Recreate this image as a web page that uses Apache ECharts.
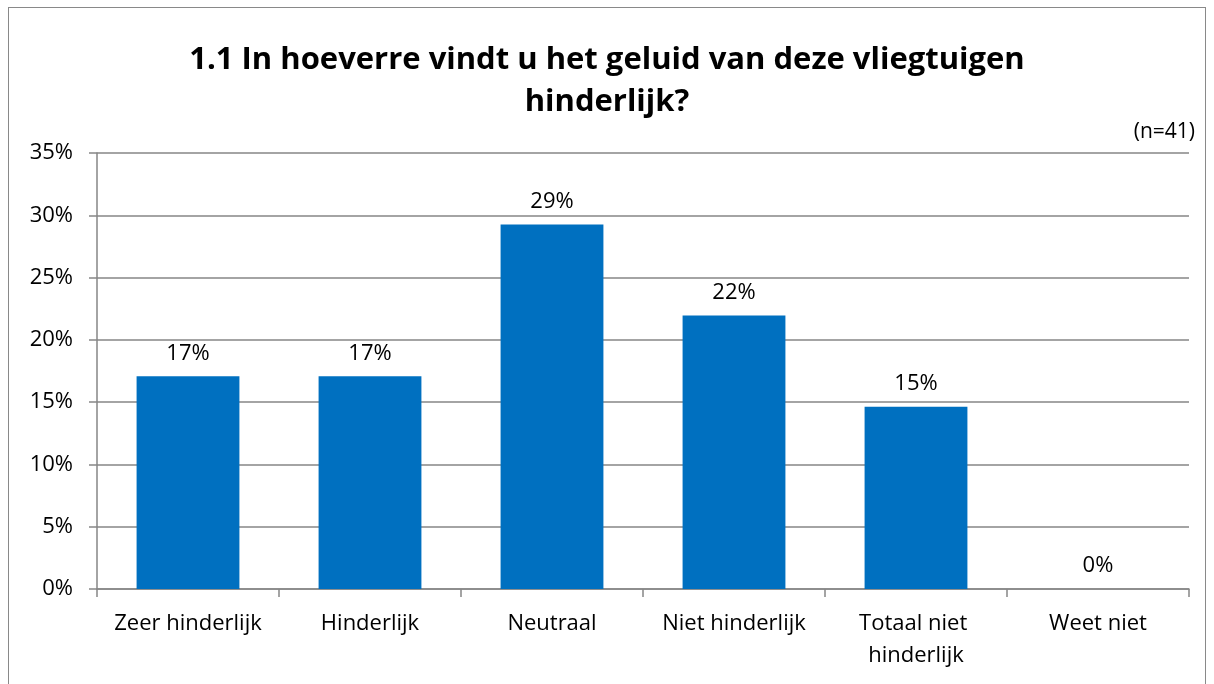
<!DOCTYPE html>
<html>
<head>
<meta charset="utf-8">
<script src="https://cdn.jsdelivr.net/npm/echarts@6/dist/echarts.min.js"></script>
<style>
  html, body { margin: 0; padding: 0; background: #fff; }
  #frame { position: absolute; left: 8px; top: 7px; width: 1198px; height: 690px; border: 1.5px solid #898989; box-sizing: border-box; }
  #chart { position: absolute; left: 0; top: 0; width: 1214px; height: 684px; }
</style>
</head>
<body>
<div id="frame"></div>
<div id="chart"></div>
<script>
const titleText = '1.1 In hoeverre vindt u het geluid van deze vliegtuigen\nhinderlijk?';
const noteText = '(n=41)';
const categories = ['Zeer hinderlijk', 'Hinderlijk', 'Neutraal', 'Niet hinderlijk', 'Totaal niet hinderlijk', 'Weet niet'];
const values = [17.07, 17.07, 29.27, 21.95, 14.63, 0];
const yTicks = [0, 5, 10, 15, 20, 25, 30, 35];

const FONT = '"Open Sans", Lato, sans-serif';
const chart = echarts.init(document.getElementById('chart'), null, { renderer: 'canvas' });
chart.setOption({
  backgroundColor: 'transparent',
  animation: false,
  title: [{
    text: titleText,
    left: 'center',
    top: 34,
    textStyle: { fontFamily: FONT, fontSize: 31, fontWeight: 'bold', color: '#000', lineHeight: 42 }
  }, {
    text: noteText,
    right: 14,
    top: 117,
    textStyle: { fontFamily: FONT, fontSize: 21, fontWeight: 'normal', color: '#000' }
  }],
  grid: { left: 97, right: 25, top: 153, bottom: 95, containLabel: false },
  xAxis: {
    type: 'category',
    data: categories,
    axisLine: { show: true, lineStyle: { color: '#868686', width: 1.5 } },
    axisTick: { show: true, length: 8, lineStyle: { color: '#868686', width: 1.5 } },
    axisLabel: {
      fontFamily: FONT, fontSize: 22, color: '#000', margin: 19,
      width: 172, overflow: 'break', lineHeight: 32, interval: 0
    }
  },
  yAxis: {
    type: 'value',
    min: 0, max: 35, interval: 5,
    axisLine: { show: true, lineStyle: { color: '#868686', width: 1.5 } },
    axisTick: { show: true, length: 8, lineStyle: { color: '#868686', width: 1.5 } },
    splitLine: { show: true, lineStyle: { color: '#868686', width: 1.5 } },
    axisLabel: {
      fontFamily: FONT, fontSize: 22, color: '#000', margin: 24,
      formatter: function (v) { return yTicks.indexOf(v) >= 0 ? v + '%' : ''; }
    }
  },
  series: [{
    type: 'bar',
    data: values,
    barWidth: '56.5%',
    itemStyle: { color: '#0070C0' },
    label: {
      show: true, position: 'top', distance: 12,
      fontFamily: FONT, fontSize: 22, color: '#000',
      formatter: function (p) { return Math.round(p.value) + '%'; }
    }
  }]
});
</script>
</body>
</html>
